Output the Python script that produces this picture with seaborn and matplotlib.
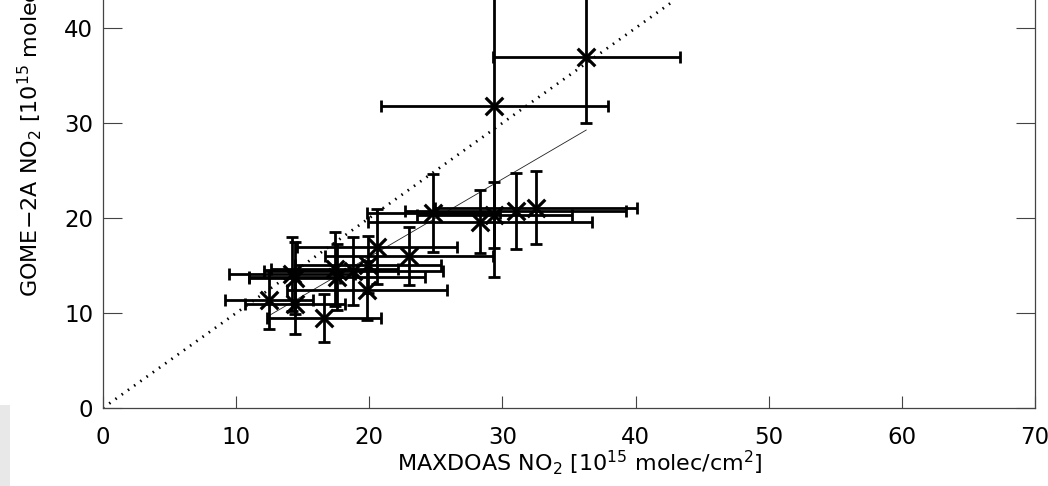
import matplotlib
matplotlib.use("Agg")
import matplotlib.pyplot as plt
import numpy as np
import pandas as pd
import seaborn as sns
from matplotlib.patches import Rectangle

# MAX-DOAS vs GOME-2A tropospheric NO2 columns [1e15 molec/cm2]
maxdoas = [36.3, 29.4, 24.8, 28.3, 29.4, 31.0, 32.5, 20.6, 23.0, 18.8,
           17.4, 17.6, 14.2, 14.4, 19.8, 12.5, 14.4, 16.6, 19.9]
gome = [37.0, 31.8, 20.5, 19.6, 20.3, 20.7, 21.1, 17.0, 16.0, 14.4,
        14.6, 13.8, 14.1, 13.7, 12.4, 11.4, 11.0, 9.5, 15.1]
maxdoas_err = [7.0, 8.5, 5.0, 8.4, 5.8, 8.3, 7.6, 6.0, 6.3, 6.7,
               4.75, 6.6, 4.7, 3.4, 6.0, 3.3, 3.75, 4.3, 5.5]
gome_err = [7.0, 18.0, 4.1, 3.3, 3.5, 4.0, 3.8, 3.9, 3.1, 3.6,
            3.9, 3.5, 3.9, 3.8, 3.1, 3.1, 3.2, 2.5, 3.0]

# linear regression line (GOME-2A = slope * MAXDOAS + intercept)
fit_slope = 0.82
fit_intercept = -0.5

x_ticks = [0, 10, 20, 30, 40, 50, 60, 70]
y_ticks = [0, 10, 20, 30, 40]
x_label = "MAXDOAS NO$_2$ [10$^{15}$ molec/cm$^2$]"
y_label = "GOME\u22122A NO$_2$ [10$^{15}$ molec/cm$^2$]"

df = pd.DataFrame({"maxdoas": maxdoas, "gome": gome,
                   "maxdoas_err": maxdoas_err, "gome_err": gome_err})

sns.set_theme(style="white")
plt.rcParams["font.family"] = ["DejaVu Sans"]
plt.rcParams["mathtext.fontset"] = "dejavusans"

W, H = 1048, 486
fig = plt.figure(figsize=(W / 100, H / 100), dpi=100)
fig.patch.set_facecolor("white")

# axes frame in pixel terms: x from 103 to 1035, y from 408 (bottom) to top edge
ax = fig.add_axes([103 / W, (H - 408) / H, 932 / W, 408 / H])
ax.set_facecolor("white")

# 1:1 reference line
ax.axline((0, 0), slope=1, color="black", lw=2.0,
          linestyle=(0, (0.55, 2.2)), zorder=2)

# regression line over the range of the data
fit_x = np.array([min(maxdoas), max(maxdoas)])
fit_df = pd.DataFrame({"x": fit_x, "y": fit_slope * fit_x + fit_intercept})
sns.lineplot(data=fit_df, x="x", y="y", ax=ax, color="#222222", lw=0.6,
             zorder=3, legend=False)

# error bars
ax.errorbar(df["maxdoas"], df["gome"], xerr=df["maxdoas_err"],
            yerr=df["gome_err"], fmt="none", ecolor="black",
            elinewidth=2.0, capsize=4.3, capthick=2.0, zorder=4)

# data markers
sns.scatterplot(data=df, x="maxdoas", y="gome", ax=ax, marker="x",
                s=160, color="black", linewidth=2.3, zorder=5, legend=False)

ax.set_xlim(0, 70)
ax.set_ylim(0, 42.95)
ax.set_xticks(x_ticks)
ax.set_yticks(y_ticks)
ax.set_xticklabels([str(t) for t in x_ticks])
ax.set_yticklabels([str(t) for t in y_ticks])

for side in ["left", "right", "bottom"]:
    ax.spines[side].set_visible(True)
    ax.spines[side].set_color("#444444")
    ax.spines[side].set_linewidth(0.9)
ax.spines["top"].set_visible(False)

ax.tick_params(axis="y", which="major", direction="in", length=13.5,
               width=0.8, color="#444444", left=True, right=True,
               labelsize=16.5, pad=7, labelcolor="black")
ax.tick_params(axis="x", which="major", direction="in", length=8.7,
               width=0.8, color="#444444", bottom=True, top=False,
               labelsize=16.5, pad=13, labelcolor="black")

ax.set_xlabel(x_label, fontsize=16, color="black")
ax.xaxis.set_label_coords((580 - 103) / 932, -(448 - 408) / 408)
ax.xaxis.label.set_va("top")

ax.set_ylabel(y_label, fontsize=16, color="black")
ax.yaxis.label.set_rotation_mode("default")
ax.yaxis.label.set_ha("center")
ax.yaxis.label.set_va("bottom")
ax.yaxis.set_label_coords((30 - 103) / 932, (408 - 297) / 408)

# light grey strip at the lower-left corner
fig.patches.append(Rectangle((0, 0), 10 / W, (H - 405) / H,
                             transform=fig.transFigure, facecolor="#e8e8e8",
                             edgecolor="none", zorder=0))

fig.savefig("out.png", dpi=100)
